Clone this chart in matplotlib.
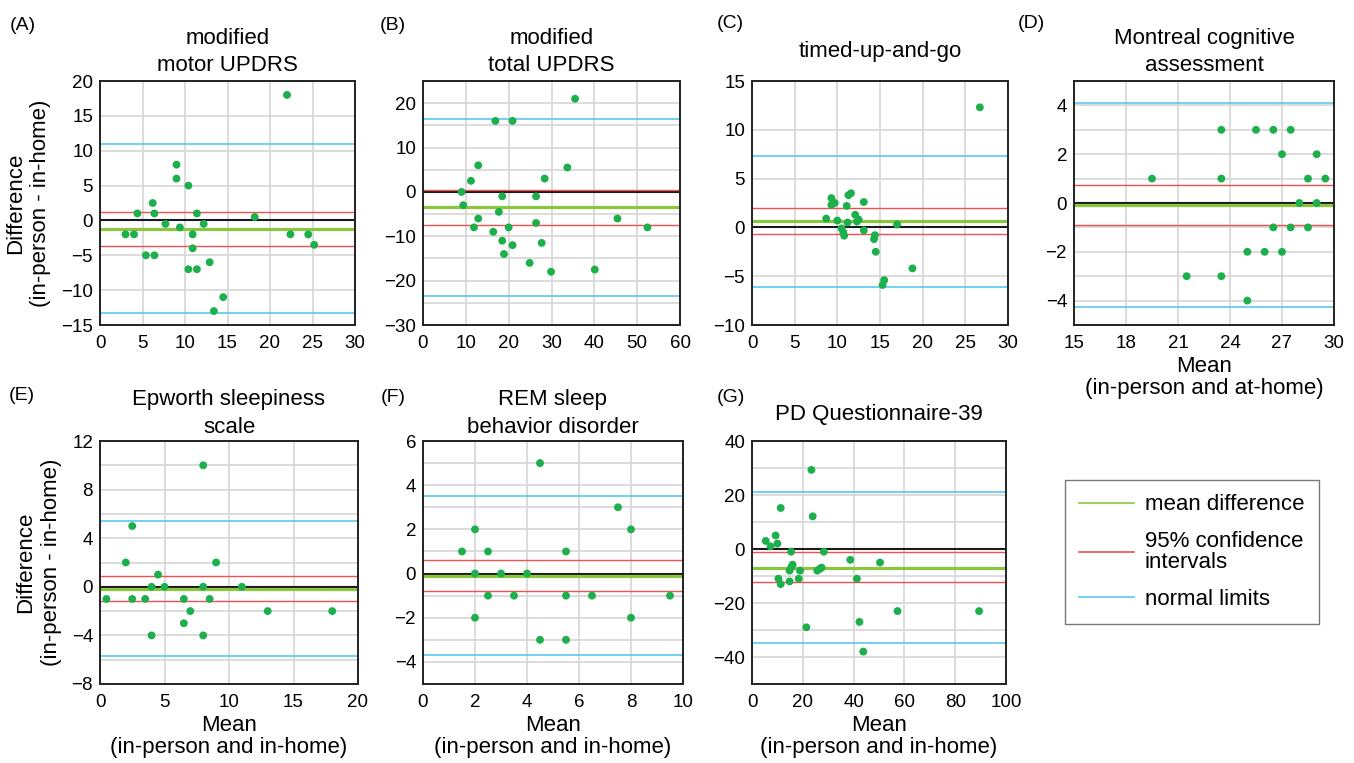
import matplotlib
matplotlib.use("Agg")
import matplotlib.pyplot as plt
from matplotlib.lines import Line2D
from matplotlib.ticker import MultipleLocator

plt.rcParams['font.family'] = ['Liberation Sans', 'DejaVu Sans']

# reference lines are stored as: mean difference, 95% CI low, 95% CI high, lower limit, upper limit

# (A) modified motor UPDRS
a_mean = [3, 4, 4.4, 5.4, 6.2, 6.4, 6.4, 7.7, 9, 9, 9.4, 10.4, 10.4, 10.9, 10.9,
          11.4, 11.4, 12.2, 12.9, 13.4, 14.5, 18.2, 22, 22.4, 24.5, 25.2]
a_diff = [-2, -2, 1, -5, 2.5, 1, -5, -0.5, 8, 6, -1, 5, -7, -2, -4,
          1, -7, -0.5, -6, -13, -11, 0.5, 18, -2, -2, -3.5]
a_lines = [-1.2, -3.6, 1.2, -13.25, 10.9]

# (B) modified total UPDRS
b_mean = [9, 9.4, 11.2, 11.9, 12.9, 12.9, 16.4, 16.9, 17.7, 18.5, 18.5, 18.9, 20,
          20.9, 20.9, 24.9, 26.4, 26.4, 27.7, 28.4, 29.9, 33.7, 35.5, 40.1, 45.4, 52.4]
b_diff = [0, -3, 2.5, -8, 6, -6, -9, 16, -4.5, -1, -11, -14, -8,
          16, -12, -16, -1, -7, -11.5, 3, -18, 5.5, 21, -17.5, -6, -8]
b_lines = [-3.4, -7.4, 0.4, -23.4, 16.4]

# (C) timed-up-and-go
c_mean = [8.7, 9.3, 9.3, 9.7, 10, 10.5, 10.7, 10.8, 11.1, 11.2, 11.3, 11.6, 12.1,
          12.3, 12.5, 13.1, 13.1, 14.3, 14.4, 14.5, 15.3, 15.5, 17, 18.8, 26.7]
c_diff = [0.9, 3, 2.3, 2.5, 0.7, -0.1, -0.5, -0.85, 2.2, 0.5, 3.3, 3.5, 1.3,
          0.6, 0.8, 2.6, -0.3, -1.2, -0.8, -2.5, -5.9, -5.4, 0.3, -4.2, 12.3]
c_lines = [0.65, -0.7, 1.95, -6.1, 7.35]

# (D) Montreal cognitive assessment
d_mean = [19.5, 21.5, 23.5, 23.5, 23.5, 25, 25, 25.5, 26, 26.5, 26.5, 27, 27,
          27.5, 27.5, 28, 28.5, 28.5, 29, 29, 29.5]
d_diff = [1, -3, 3, 1, -3, -2, -4, 3, -2, 3, -1, 2, -2,
          3, -1, 0, 1, -1, 2, 0, 1]
d_lines = [-0.1, -0.9, 0.75, -4.25, 4.1]

# (E) Epworth sleepiness scale
e_mean = [0.5, 2, 2.5, 2.5, 3.5, 4, 4, 4.5, 5, 6.5, 6.5, 7, 8, 8, 8, 8.5, 9, 11, 13, 18]
e_diff = [-1, 2, 5, -1, -1, 0, -4, 1, 0, -1, -3, -2, 10, 0, -4, -1, 2, 0, -2, -2]
e_lines = [-0.15, -1.2, 0.93, -5.67, 5.4]

# (F) REM sleep behavior disorder
f_mean = [1.5, 2, 2, 2, 2.5, 2.5, 3, 3.5, 4, 4.5, 4.5, 5.5, 5.5, 5.5, 6.5, 7.5, 8, 8, 9.5]
f_diff = [1, 2, 0, -2, 1, -1, 0, -1, 0, 5, -3, 1, -1, -3, -1, 3, 2, -2, -1]
f_lines = [-0.09, -0.78, 0.62, -3.67, 3.5]

# (G) PD Questionnaire-39
g_mean = [5.4, 7.3, 9.3, 10, 10.4, 11.3, 11.3, 14.8, 14.8, 15.4, 15.5, 16, 18.4, 18.9,
          21.4, 23.4, 23.9, 25.7, 26.6, 27.4, 28.3, 38.7, 41.3, 42.3, 43.8, 50.4, 57.3, 89.4]
g_diff = [3, 1, 5, 2, -11, 15.2, -13, -12, -8, -1, -6.7, -5.8, -11, -8,
          -29, 29.3, 12.1, -8, -7.4, -6.9, -1, -4, -11, -27, -38, -5, -23, -23]
g_lines = [-6.9, -12.3, -1.2, -34.9, 21.1]

W, H = 1354, 763
fig = plt.figure(figsize=(W / 100, H / 100), dpi=100)

ylab = "Difference\n(in-person - in-home)"
xlab = "Mean\n(in-person and in-home)"

# layout in pixels: left, top, width, height
panels = [
    ("(A)", (10, 25), "modified\nmotor UPDRS", a_mean, a_diff, a_lines,
     (0, 30), 5, (-15, 20), 5, 5, (100, 81, 255, 244), 7, ylab, None),
    ("(B)", (380, 25), "modified\ntotal UPDRS", b_mean, b_diff, b_lines,
     (0, 60), 10, (-30, 25), 10, 5, (423, 81, 257, 244), 7, None, None),
    ("(C)", (717, 24), "timed-up-and-go", c_mean, c_diff, c_lines,
     (0, 30), 5, (-10, 15), 5, 5, (752, 81, 256, 244), 17, None, None),
    ("(D)", (1018, 24), "Montreal cognitive\nassessment", d_mean, d_diff, d_lines,
     (15, 30), 3, (-5, 5), 2, 1, (1074, 81, 260, 244), 7, None,
     "Mean\n(in-person and at-home)"),
    ("(E)", (9, 396), "Epworth sleepiness\nscale", e_mean, e_diff, e_lines,
     (0, 20), 5, (-8, 12), 4, 2, (100, 441, 258, 243), 6, ylab, xlab),
    ("(F)", (381, 397), "REM sleep\nbehavior disorder", f_mean, f_diff, f_lines,
     (0, 10), 2, (-5, 6), 2, 1, (423, 441, 260, 243), 6, None, xlab),
    ("(G)", (717, 397), "PD Questionnaire-39", g_mean, g_diff, g_lines,
     (0, 100), 20, (-50, 40), 20, 10, (752, 441, 254, 243), 15, None, xlab),
]

green_pt = '#1daf4c'
c_mean_line = '#8cc63f'
c_ci = '#f05050'
c_lim = '#5ac8f0'
grid_c = '#d9d9d9'

for (tag, tpos, title, mx, dy, ref, xlim, xstep, ylim, ystep, gstep,
     box, tpad, yl, xl) in panels:
    l, t, w, h = box
    ax = fig.add_axes([l / W, 1 - (t + h) / H, w / W, h / H])
    ax.set_xlim(*xlim)
    ax.set_ylim(*ylim)
    ax.xaxis.set_major_locator(MultipleLocator(xstep))
    ax.yaxis.set_major_locator(MultipleLocator(ystep))
    ax.yaxis.set_minor_locator(MultipleLocator(gstep))
    ax.set_axisbelow(True)
    ax.grid(True, axis='x', which='major', color=grid_c, lw=1.3)
    ax.grid(True, axis='y', which='both', color=grid_c, lw=1.3)
    ax.tick_params(which='both', length=0, labelsize=13.5)
    ax.tick_params(axis='x', pad=7)
    ax.tick_params(axis='y', pad=5)
    for s in ax.spines.values():
        s.set_color('#222222')
        s.set_linewidth(1.4)

    md, lo, hi, llim, ulim = ref
    ax.axhline(0, color='#1a1a1a', lw=1.5, zorder=2)
    ax.axhline(lo, color=c_ci, lw=1.0, zorder=2)
    ax.axhline(hi, color=c_ci, lw=1.0, zorder=2)
    ax.axhline(llim, color=c_lim, lw=1.2, zorder=2)
    ax.axhline(ulim, color=c_lim, lw=1.2, zorder=2)
    ax.axhline(md, color=c_mean_line, lw=2.3, zorder=2)
    ax.scatter(mx, dy, s=32, color=green_pt, edgecolors='none', zorder=3, clip_on=False)

    ax.set_title(title, fontsize=16, pad=tpad, linespacing=1.4)
    if yl:
        ax.set_ylabel(yl, fontsize=16, labelpad=7, linespacing=1.3)
    if xl:
        ax.set_xlabel(xl, fontsize=16, labelpad=3, linespacing=1.1)

    fig.text(tpos[0] / W, 1 - tpos[1] / H, tag, fontsize=14, ha='left', va='center')

handles = [Line2D([], [], color=c_mean_line, lw=1.2),
           Line2D([], [], color=c_ci, lw=1.2),
           Line2D([], [], color=c_lim, lw=1.2)]
labels = ["mean difference", "95% confidence\nintervals", "normal limits"]
leg = fig.legend(handles, labels, loc='upper left',
                 bbox_to_anchor=(1065 / W, 1 - 480 / H), borderaxespad=0,
                 fontsize=16, frameon=True, fancybox=False, handlelength=2.45,
                 handletextpad=0.5, borderpad=0.65, labelspacing=0.7)
leg.get_frame().set_edgecolor('#555555')
leg.get_frame().set_linewidth(1.0)
for txt in leg.get_texts():
    txt.set_linespacing(1.0)

fig.savefig("out.png", dpi=100)
